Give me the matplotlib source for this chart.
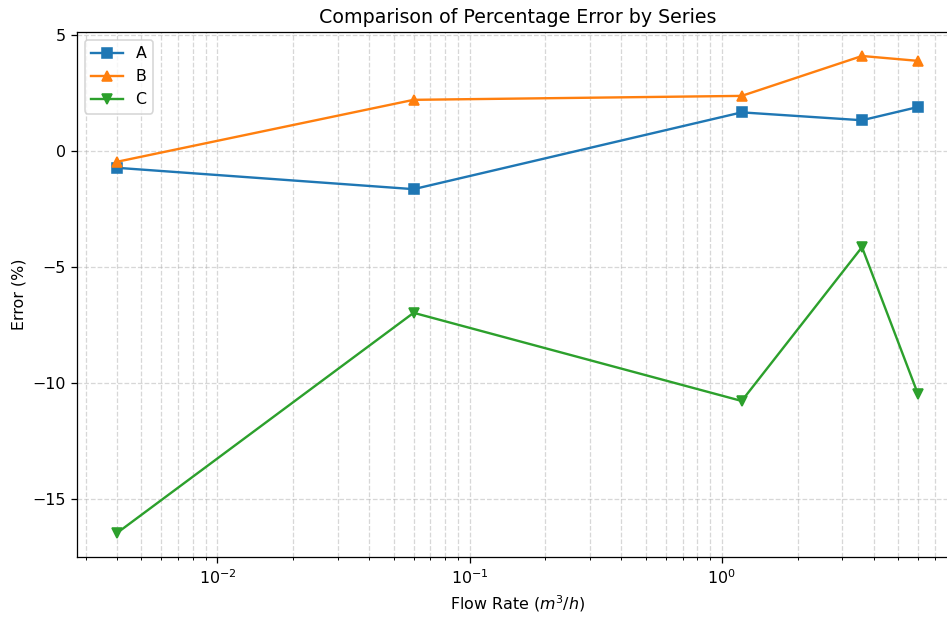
import numpy as np
import matplotlib
matplotlib.use("Agg")
import matplotlib.pyplot as plt

# flow rates (m^3/h) and percentage error per series
flow = [0.004, 0.06, 1.2, 3.6, 6.0]
err_a = [-0.73, -1.65, 1.66, 1.32, 1.89]
err_b = [-0.47, 2.2, 2.37, 4.09, 3.88]
err_c = [-16.47, -6.98, -10.78, -4.15, -10.48]

dpi = 114
fig, ax = plt.subplots(figsize=(947 / dpi, 618 / dpi), dpi=dpi)

ax.plot(flow, err_a, marker="s", label="A")
ax.plot(flow, err_b, marker="^", label="B")
ax.plot(flow, err_c, marker="v", label="C")

ax.set_xscale("log")
ax.set_xlabel("Flow Rate ($m^3/h$)")
ax.set_ylabel("Error (%)")
ax.set_title("Comparison of Percentage Error by Series")
ax.grid(True, which="both", linestyle="--", alpha=0.5)
ax.legend(loc="upper left")

# the reference is cropped on the right, so the axes run past the edge
fig.subplots_adjust(left=0.0813, right=1.0116, top=0.948, bottom=0.099)
fig.savefig("out.png")
